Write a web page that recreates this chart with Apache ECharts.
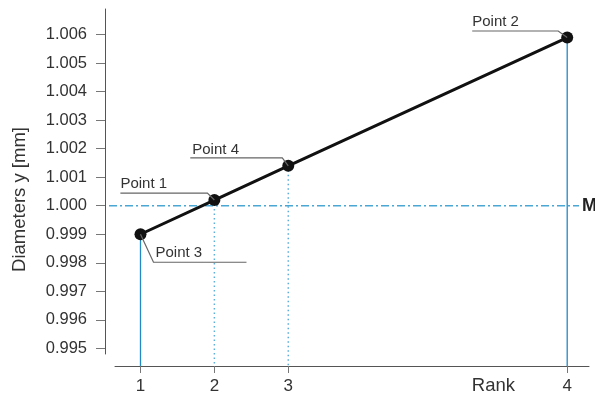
<!DOCTYPE html>
<html>
<head>
<meta charset="utf-8">
<script src="https://cdn.jsdelivr.net/npm/echarts@6/dist/echarts.min.js"></script>
<style>html,body{margin:0;padding:0;background:#fff}#c{width:595px;height:397px}</style>
</head>
<body>
<div id="c"></div>
<script>
// ---- data ----
var rankLabels = ['1', '2', '3', '4'];
var rankPos = [1, 2, 3, 6.775];           // position of each rank on the horizontal scale
var diameters = [0.999, 1.0002, 1.0014, 1.0059];
var pointNames = ['Point 3', 'Point 1', 'Point 4', 'Point 2'];
var yTicks = [0.995, 0.996, 0.997, 0.998, 0.999, 1.000, 1.001, 1.002, 1.003, 1.004, 1.005, 1.006];
var meanValue = 1.000;
var meanLabel = 'M';
var yName = 'Diameters y [mm]';
var xName = 'Rank';

// ---- styles ----
var FONT = "'Liberation Sans', Arial, sans-serif";
var guideStyle = ['solid', 'dotted', 'dotted', 'solid'];
var guideColor = ['#1f8ac6', '#5eaedb', '#5eaedb', '#1f8ac6'];
// leader line polylines (relative px) and text anchor per point
var leader = [
  {pts: [[0, 0], [13, 28], [106, 28]], tx: 15, ty: 19},
  {pts: [[0, 0], [-7, -7], [-94, -7]], tx: -94, ty: -16.5},
  {pts: [[0, 0], [-6, -8], [-98, -8]], tx: -96, ty: -16},
  {pts: [[0, 0], [-9, -6.5], [-95, -6.5]], tx: -95, ty: -15.5}
];
var X_MIN = 0.655, X_MAX = 7.07, Y_MIN = 0.9948, Y_MAX = 1.0069;
var X_AXIS_OFFSET = 12;

var pairs = rankPos.map(function (x, i) { return [x, diameters[i], i]; });

var chart = echarts.init(document.getElementById('c'), null, {renderer: 'canvas'});
chart.setOption({
  animation: false,
  backgroundColor: '#ffffff',
  grid: {left: 115, right: 6, top: 9, bottom: 43},
  xAxis: {
    type: 'value', min: X_MIN, max: X_MAX, offset: X_AXIS_OFFSET,
    name: xName, nameLocation: 'end', nameGap: -74,
    nameTextStyle: {fontFamily: FONT, fontSize: 18.5, color: '#333', align: 'right', verticalAlign: 'top', padding: [10, 0, 0, 0]},
    axisLine: {show: true, onZero: false, lineStyle: {color: '#555', width: 1}},
    axisTick: {show: true, length: 7, customValues: rankPos, lineStyle: {color: '#777'}},
    axisLabel: {customValues: rankPos, margin: 12, fontFamily: FONT, fontSize: 17, color: '#333',
      formatter: function (v) { var i = rankPos.indexOf(v); return i >= 0 ? rankLabels[i] : ''; }},
    splitLine: {show: false}
  },
  yAxis: {
    type: 'value', min: Y_MIN, max: Y_MAX, offset: 10,
    name: yName, nameLocation: 'middle', nameGap: 76, nameRotate: 90,
    nameTextStyle: {fontFamily: FONT, fontSize: 18.5, color: '#333', padding: [0, 36, 0, 0]},
    axisLine: {show: true, lineStyle: {color: '#555', width: 1}},
    axisTick: {show: true, length: 9, customValues: yTicks, lineStyle: {color: '#777'}},
    axisLabel: {customValues: yTicks, margin: 18, fontFamily: FONT, fontSize: 16.5, color: '#333',
      formatter: function (v) { return v.toFixed(3); }},
    splitLine: {show: false}
  },
  series: [
    {
      // vertical guide lines from each point down to the rank axis
      type: 'custom', z: 1, clip: false, silent: true,
      data: pairs,
      renderItem: function (params, api) {
        var i = api.value(2);
        var p = api.coord([api.value(0), api.value(1)]);
        var b = api.coord([api.value(0), Y_MIN]);
        var dash = guideStyle[i] === 'dotted' ? [1.5, 3] : null;
        return {type: 'line', shape: {x1: p[0], y1: p[1], x2: p[0], y2: b[1] + X_AXIS_OFFSET},
          style: {stroke: guideColor[i], lineWidth: guideStyle[i] === 'dotted' ? 1.5 : 1.3, lineDash: dash}};
      }
    },
    {
      // mean line (dash-dot) with label M
      type: 'custom', z: 1, clip: false, silent: true,
      data: [[meanValue]],
      renderItem: function (params, api) {
        var cs = params.coordSys;
        var y = api.coord([X_MIN, api.value(0)])[1];
        var x1 = cs.x - 6, x2 = cs.x + cs.width - 10;
        return {type: 'group', children: [
          {type: 'line', shape: {x1: x1, y1: y, x2: x2, y2: y},
            style: {stroke: '#4aa6d3', lineWidth: 1.3, lineDash: [8, 3, 2, 3]}},
          {type: 'text', x: x2 + 3, y: y,
            style: {text: meanLabel, fontFamily: FONT, fontSize: 18, fontWeight: 'bold', fill: '#222', align: 'left', verticalAlign: 'middle'}}
        ]};
      }
    },
    {
      type: 'line', z: 3,
      data: pairs,
      symbol: 'circle', symbolSize: 12,
      itemStyle: {color: '#111'},
      lineStyle: {color: '#111', width: 3},
      label: {show: false}
    },
    {
      // point name annotations with leader lines
      type: 'custom', z: 4, clip: false, silent: true,
      data: pairs,
      renderItem: function (params, api) {
        var i = api.value(2);
        var p = api.coord([api.value(0), api.value(1)]);
        var L = leader[i];
        var pts = L.pts.map(function (q) { return [p[0] + q[0], p[1] + q[1]]; });
        return {type: 'group', children: [
          {type: 'polyline', shape: {points: pts}, style: {stroke: '#666', lineWidth: 1.2, fill: null}},
          {type: 'text', x: p[0] + L.tx, y: p[1] + L.ty,
            style: {text: pointNames[i], fontFamily: FONT, fontSize: 15, fill: '#333', align: 'left', verticalAlign: 'middle'}}
        ]};
      }
    }
  ]
});
</script>
</body>
</html>
